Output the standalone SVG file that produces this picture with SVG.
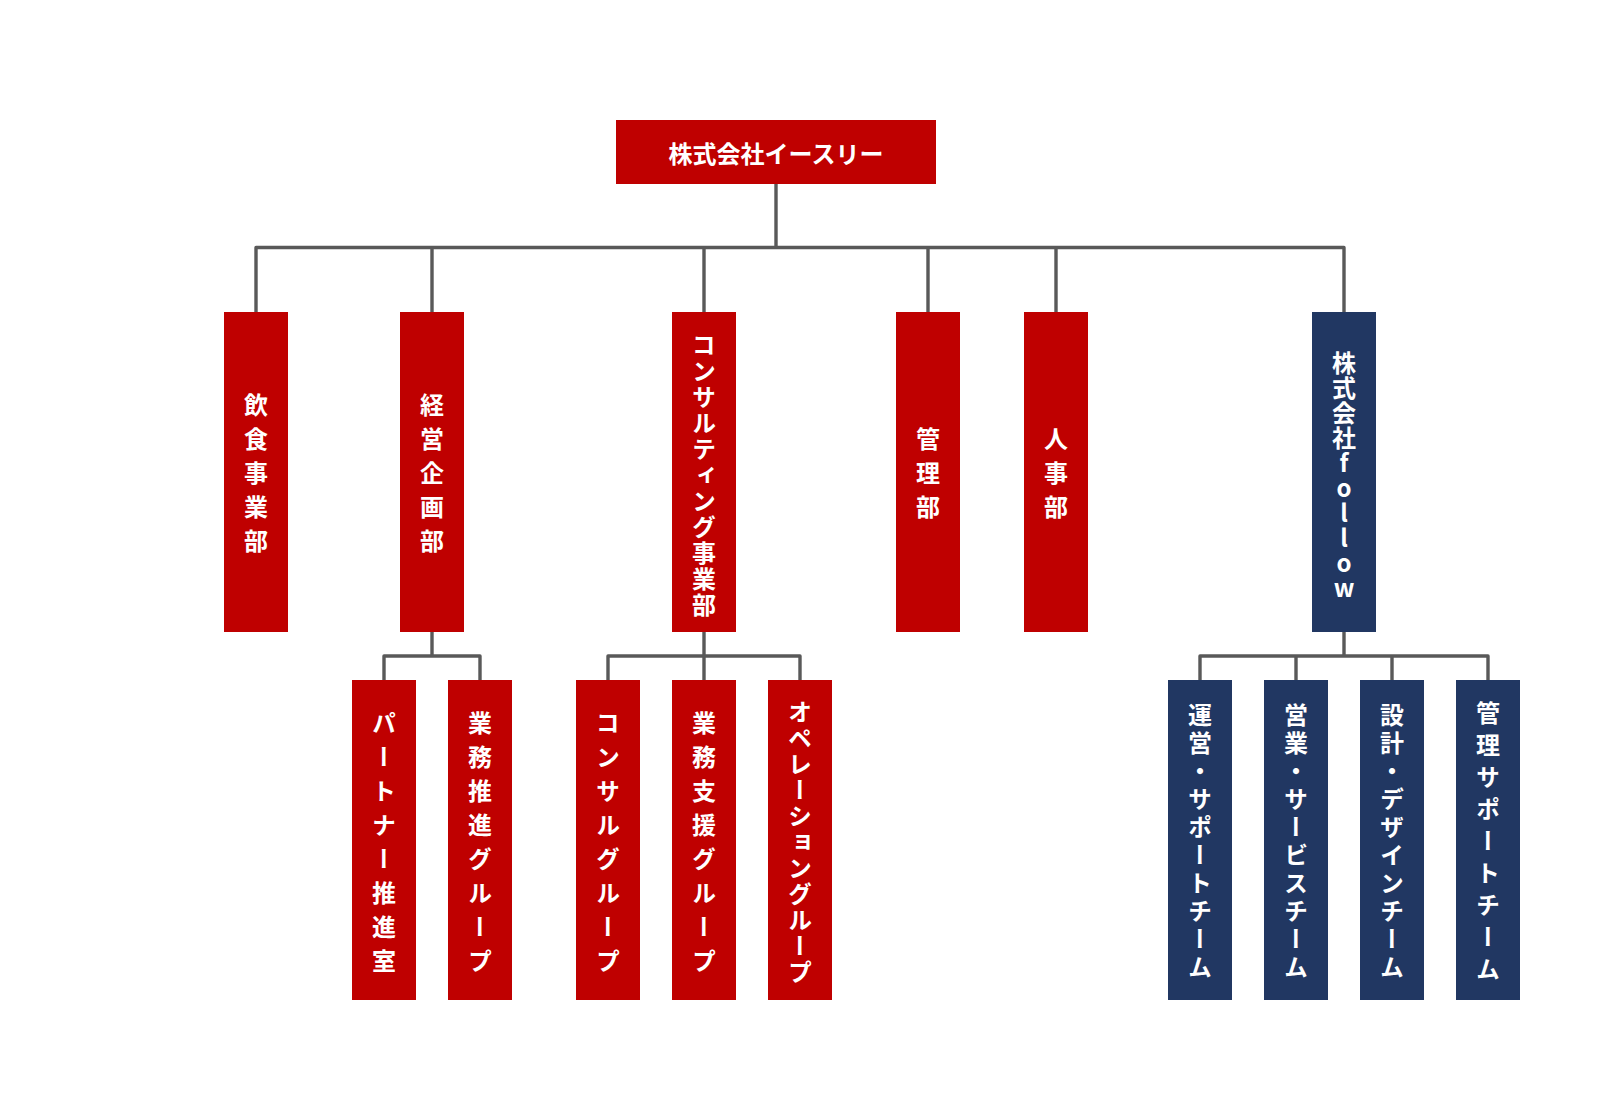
<svg xmlns="http://www.w3.org/2000/svg" width="1600" height="1120" viewBox="0 0 1600 1120">
<style>
.red{fill:#BF0000}
.navy{fill:#213762}
.t{fill:#fff;font-family:"Noto Sans CJK JP","Noto Sans",sans-serif;font-weight:bold;font-size:24px;text-anchor:middle}
.v{writing-mode:vertical-rl}
.u{text-orientation:upright}
.ln{fill:none;stroke:#595959;stroke-width:3.4;stroke-linejoin:round;stroke-linecap:square}
</style>
<rect width="1600" height="1120" fill="#fff"/>
<g id="connectors" class="ln">
<path d="M776 184V247.5M256 312V247.5H1344V312M432 247.5V312M704 247.5V312M928 247.5V312M1056 247.5V312"/>
<path d="M432 632V656M384 680V656H480V680"/>
<path d="M704 632V680M608 680V656H800V680"/>
<path d="M1344 632V656M1200 680V656H1488V680M1296 656V680M1392 656V680"/>
</g>
<g id="n-top"><rect class="red" x="616" y="120" width="320" height="64"/><text class="t" x="776" y="163">株式会社イースリー</text></g>
<g id="n-inshoku"><rect class="red" x="224" y="312" width="64" height="320"/><text class="t v" x="256" y="478" style="letter-spacing:10px">飲食事業部</text></g>
<g id="n-keiei"><rect class="red" x="400" y="312" width="64" height="320"/><text class="t v" x="432" y="478" style="letter-spacing:10px">経営企画部</text></g>
<g id="n-consulting"><rect class="red" x="672" y="312" width="64" height="320"/><text class="t v" x="704" y="476" style="letter-spacing:2px">コンサルティング事業部</text></g>
<g id="n-kanri"><rect class="red" x="896" y="312" width="64" height="320"/><text class="t v" x="928" y="478" style="letter-spacing:10px">管理部</text></g>
<g id="n-jinji"><rect class="red" x="1024" y="312" width="64" height="320"/><text class="t v" x="1056" y="478" style="letter-spacing:10px">人事部</text></g>
<g id="n-follow"><rect class="navy" x="1312" y="312" width="64" height="320"/><text class="t v u" x="1344" y="476" style="letter-spacing:1px">株式会社follow</text></g>
<g id="n-partner"><rect class="red" x="352" y="680" width="64" height="320"/><text class="t v" x="384" y="847" style="letter-spacing:10px">パートナー推進室</text></g>
<g id="n-gyomusuishin"><rect class="red" x="448" y="680" width="64" height="320"/><text class="t v" x="480" y="847" style="letter-spacing:10px">業務推進グループ</text></g>
<g id="n-consul-g"><rect class="red" x="576" y="680" width="64" height="320"/><text class="t v" x="608" y="847" style="letter-spacing:10px">コンサルグループ</text></g>
<g id="n-shien"><rect class="red" x="672" y="680" width="64" height="320"/><text class="t v" x="704" y="847" style="letter-spacing:10px">業務支援グループ</text></g>
<g id="n-operation"><rect class="red" x="768" y="680" width="64" height="320"/><text class="t v" x="800" y="843" style="letter-spacing:2px">オペレーショングループ</text></g>
<g id="n-unei"><rect class="navy" x="1168" y="680" width="64" height="320"/><text class="t v" x="1200" y="843" style="letter-spacing:4px">運営・サポートチーム</text></g>
<g id="n-eigyo"><rect class="navy" x="1264" y="680" width="64" height="320"/><text class="t v" x="1296" y="843" style="letter-spacing:4px">営業・サービスチーム</text></g>
<g id="n-sekkei"><rect class="navy" x="1360" y="680" width="64" height="320"/><text class="t v" x="1392" y="843" style="letter-spacing:4px">設計・デザインチーム</text></g>
<g id="n-kanri-support"><rect class="navy" x="1456" y="680" width="64" height="320"/><text class="t v" x="1488" y="845" style="letter-spacing:8px">管理サポートチーム</text></g>
</svg>
